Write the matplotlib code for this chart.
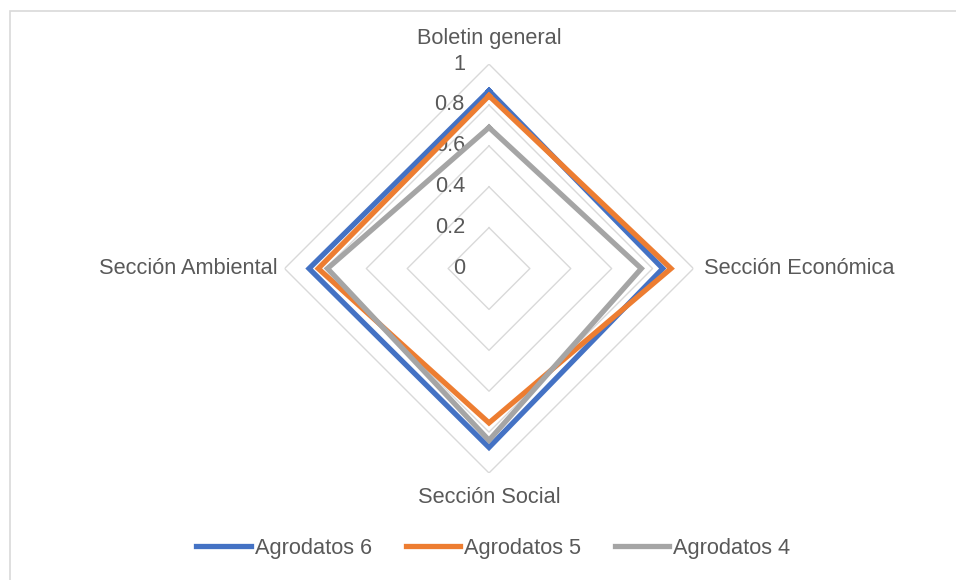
import numpy as np
import matplotlib
matplotlib.use('Agg')
import matplotlib.pyplot as plt
from matplotlib.patches import Rectangle

# categories, clockwise from the top
categories = ['Boletin general', 'Sección Económica', 'Sección Social', 'Sección Ambiental']
series_names = ['Agrodatos 6', 'Agrodatos 5', 'Agrodatos 4']
agrodatos_6 = [0.87, 0.85, 0.875, 0.88]
agrodatos_5 = [0.845, 0.89, 0.755, 0.835]
agrodatos_4 = [0.69, 0.745, 0.84, 0.79]
colors = ['#4472C4', '#ED7D31', '#A5A5A5']
ring_values = [0.2, 0.4, 0.6, 0.8, 1.0]
tick_labels = ['0', '0.2', '0.4', '0.6', '0.8', '1']

plt.rcParams['font.family'] = ['Liberation Sans', 'DejaVu Sans']
text_color = '#595959'
fs = 15.7


def main():
    fig = plt.figure(figsize=(9.56, 5.8), dpi=100)
    # chart area border (only top and left visible in the original)
    fig.patches.append(Rectangle((10 / 956, -0.1), 1.2, 1.1 - 11 / 580, transform=fig.transFigure,
                                 fill=False, edgecolor='#D9D9D9', linewidth=1.2))

    ax = fig.add_axes([0.2976, 0.1845, 0.4278, 0.705], projection='polar')
    ax.set_theta_offset(np.pi / 2)
    ax.set_theta_direction(-1)
    ax.set_ylim(0, 1)
    ax.grid(False)
    ax.spines['polar'].set_visible(False)
    ax.set_xticks([])
    ax.set_yticks([])
    ax.patch.set_alpha(0)

    n = len(categories)
    angles = np.linspace(0, 2 * np.pi, n, endpoint=False)
    closed = np.concatenate([angles, angles[:1]])

    # diamond rings
    for r in ring_values:
        ax.plot(closed, [r] * (n + 1), color='#D9D9D9', linewidth=1.0, zorder=1)

    # radial value labels
    for v, lab in zip([0] + ring_values, tick_labels):
        ax.annotate(lab, xy=(0, v), xytext=(-24, 0), textcoords='offset pixels',
                    ha='right', va='center', fontsize=fs, color=text_color)

    for vals, c, name in zip([agrodatos_6, agrodatos_5, agrodatos_4], colors, series_names):
        ax.plot(closed, vals + vals[:1], color=c, linewidth=3.8, label=name,
                solid_joinstyle='miter', zorder=3)

    # category labels
    ax.text(angles[0], 1.125, categories[0], ha='center', va='center', fontsize=fs, color=text_color)
    ax.text(angles[1], 1.05, categories[1], ha='left', va='center', fontsize=fs, color=text_color)
    ax.text(angles[2], 1.12, categories[2], ha='center', va='center', fontsize=fs, color=text_color)
    ax.text(angles[3], 1.035, categories[3], ha='right', va='center', fontsize=fs, color=text_color)

    fig.legend(loc='center', bbox_to_anchor=(0.516, 0.055), ncol=3, frameon=False,
               fontsize=fs, labelcolor=text_color, handlelength=2.5, handletextpad=0.18,
               columnspacing=1.55)

    fig.savefig('out.png', dpi=100)


if __name__ == "__main__":
    main()
